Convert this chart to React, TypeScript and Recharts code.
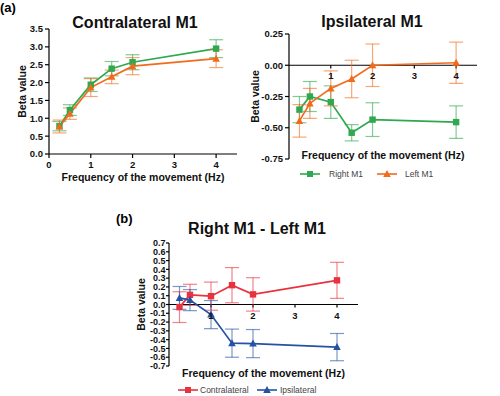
import React from "react";
import { LineChart, Line, XAxis, YAxis, ErrorBar, ReferenceLine } from "recharts";

// frequencies of the movement (Hz)
const freqs = [0.25, 0.5, 1, 1.5, 2, 4];

// (a) contralateral M1
const contraRight = [0.78, 1.23, 1.94, 2.39, 2.57, 2.95];
const contraRightErr = [0.13, 0.15, 0.19, 0.2, 0.21, 0.25];
const contraLeft = [0.77, 1.13, 1.86, 2.16, 2.46, 2.67];
const contraLeftErr = [0.18, 0.16, 0.25, 0.19, 0.24, 0.25];

// (a) ipsilateral M1
const ipsiRight = [-0.355, -0.25, -0.295, -0.54, -0.435, -0.455];
const ipsiRightErr = [0.105, 0.12, 0.13, 0.065, 0.135, 0.13];
const ipsiLeft = [-0.445, -0.305, -0.185, -0.11, 0.0, 0.02];
const ipsiLeftErr = [0.13, 0.12, 0.14, 0.15, 0.17, 0.165];

// (b) right M1 - left M1
const diffContra = [-0.03, 0.11, 0.095, 0.22, 0.115, 0.275];
const diffContraErr = [0.175, 0.12, 0.16, 0.2, 0.19, 0.205];
const diffIpsi = [0.075, 0.05, -0.115, -0.44, -0.445, -0.485];
const diffIpsiErr = [0.13, 0.12, 0.16, 0.16, 0.16, 0.155];

const xTicks = [0, 1, 2, 3, 4];
const xTicksNoZero = [1, 2, 3, 4];
const contraTicks = [0, 0.5, 1, 1.5, 2, 2.5, 3, 3.5];
const ipsiTicks = [-0.75, -0.5, -0.25, 0, 0.25];
const diffTicks = [0.7, 0.6, 0.5, 0.4, 0.3, 0.2, 0.1, 0, -0.1, -0.2, -0.3, -0.4, -0.5, -0.6, -0.7];

const GREEN = "#2fa84f";
const ORANGE = "#f26b1d";
const RED = "#e9323f";
const BLUE = "#2553a3";

const FONT = "'Liberation Sans', Arial, sans-serif";
const TITLE_FONT = "'Liberation Sans Narrow', 'Liberation Sans', sans-serif";
const X_LABEL = "Frequency of the movement (Hz)";

const contraData = freqs.map((f, i) => ({
  f,
  right: contraRight[i],
  rightErr: contraRightErr[i],
  left: contraLeft[i],
  leftErr: contraLeftErr[i],
}));
const ipsiData = freqs.map((f, i) => ({
  f,
  right: ipsiRight[i],
  rightErr: ipsiRightErr[i],
  left: ipsiLeft[i],
  leftErr: ipsiLeftErr[i],
}));
const diffData = freqs.map((f, i) => ({
  f,
  contra: diffContra[i],
  contraErr: diffContraErr[i],
  ipsi: diffIpsi[i],
  ipsiErr: diffIpsiErr[i],
}));

const squareDot = (color: string) => (p: any) => {
  if (p.cx == null || p.cy == null) return <g key={p.index} />;
  return <rect key={p.index} x={p.cx - 3.2} y={p.cy - 3.2} width={6.4} height={6.4} fill={color} />;
};
const triangleDot = (color: string) => (p: any) => {
  if (p.cx == null || p.cy == null) return <g key={p.index} />;
  const { cx, cy } = p;
  return (
    <polygon
      key={p.index}
      points={`${cx},${cy - 4} ${cx - 3.8},${cy + 3} ${cx + 3.8},${cy + 3}`}
      fill={color}
    />
  );
};

const tickStyle = (size: number) => ({ fontSize: size, fontWeight: 700, fill: "#111", fontFamily: FONT });
const axisLabel = { fontSize: 10.5, fontWeight: 700, fill: "#111", fontFamily: FONT };

function Title({ text, x, y }: { text: string; x: number; y: number }) {
  return (
    <div
      style={{
        position: "absolute",
        left: x,
        top: y - 10,
        transform: "translateX(-50%)",
        lineHeight: "20px",
        fontSize: 16,
        fontWeight: 700,
        fontFamily: TITLE_FONT,
        color: "#111",
        whiteSpace: "nowrap",
      }}
    >
      {text}
    </div>
  );
}

function LegendItem({ x, y, textX, color, shape, text }: any) {
  return (
    <>
      <svg style={{ position: "absolute", left: x, top: y - 5 }} width={20} height={10}>
        <line x1={0} y1={5} x2={20} y2={5} stroke={color} strokeWidth={1.6} />
        {shape === "square" ? (
          <rect x={7} y={2} width={6} height={6} fill={color} />
        ) : (
          <polygon points="10,1 6.2,8 13.8,8" fill={color} />
        )}
      </svg>
      <div
        style={{
          position: "absolute",
          left: textX,
          top: y - 6,
          lineHeight: "12px",
          fontSize: 8.5,
          fontFamily: FONT,
          color: "#444",
          whiteSpace: "nowrap",
        }}
      >
        {text}
      </div>
    </>
  );
}

function ContraChart() {
  return (
    <LineChart width={250} height={200} data={contraData} margin={{ top: 29, right: 13, bottom: 16, left: 15 }}>
      <XAxis
        type="number"
        dataKey="f"
        domain={[0, 4.5]}
        ticks={xTicks}
        allowDataOverflow
        stroke="#000"
        strokeWidth={1.2}
        tickSize={4}
        tickMargin={3}
        height={30}
        tick={tickStyle(9.5)}
        label={{ value: X_LABEL, position: "insideBottom", offset: 3, ...axisLabel }}
      />
      <YAxis
        type="number"
        domain={[0, 3.5]}
        ticks={contraTicks}
        allowDataOverflow
        width={34}
        stroke="#000"
        strokeWidth={1.2}
        tickSize={4}
        tickMargin={2}
        tick={tickStyle(9.5)}
        tickFormatter={(v: number) => v.toFixed(1)}
        label={{ value: "Beta value", angle: -90, position: "insideLeft", offset: 7, style: { textAnchor: "middle" }, ...axisLabel }}
      />
      <Line dataKey="right" stroke={GREEN} strokeWidth={1.7} dot={squareDot(GREEN)} isAnimationActive={false}>
        <ErrorBar dataKey="rightErr" direction="y" width={7} stroke={GREEN} strokeOpacity={0.6} strokeWidth={1.2} />
      </Line>
      <Line dataKey="left" stroke={ORANGE} strokeWidth={1.7} dot={triangleDot(ORANGE)} isAnimationActive={false}>
        <ErrorBar dataKey="leftErr" direction="y" width={7} stroke={ORANGE} strokeOpacity={0.6} strokeWidth={1.2} />
      </Line>
    </LineChart>
  );
}

function IpsiChart() {
  return (
    <LineChart width={254} height={200} data={ipsiData} margin={{ top: 34, right: 23, bottom: 21, left: 7 }}>
      <XAxis
        type="number"
        dataKey="f"
        domain={[0, 4.5]}
        allowDataOverflow
        axisLine={false}
        tickLine={false}
        tick={false}
        height={20}
        label={{ value: X_LABEL, position: "top", offset: 0, ...axisLabel }}
      />
      <YAxis
        type="number"
        domain={[-0.75, 0.25]}
        ticks={ipsiTicks}
        allowDataOverflow
        width={36}
        stroke="#000"
        strokeWidth={1.2}
        tickSize={4}
        tickMargin={2}
        tick={tickStyle(9.5)}
        tickFormatter={(v: number) => v.toFixed(2)}
        label={{ value: "Beta value", angle: -90, position: "insideLeft", offset: 2, style: { textAnchor: "middle" }, ...axisLabel }}
      />
      <ReferenceLine y={0} stroke="#000" strokeWidth={1.2} />
      {xTicksNoZero.map((t) => (
        <ReferenceLine
          key={t}
          segment={[{ x: t, y: 0 }, { x: t, y: -0.025 }]}
          stroke="#000"
          strokeWidth={1.2}
          label={{ value: String(t), position: "bottom", offset: 4, ...tickStyle(9.5) }}
        />
      ))}
      <Line dataKey="right" stroke={GREEN} strokeWidth={1.7} dot={squareDot(GREEN)} isAnimationActive={false}>
        <ErrorBar dataKey="rightErr" direction="y" width={7} stroke={GREEN} strokeOpacity={0.6} strokeWidth={1.2} />
      </Line>
      <Line dataKey="left" stroke={ORANGE} strokeWidth={1.7} dot={triangleDot(ORANGE)} isAnimationActive={false}>
        <ErrorBar dataKey="leftErr" direction="y" width={7} stroke={ORANGE} strokeOpacity={0.6} strokeWidth={1.2} />
      </Line>
    </LineChart>
  );
}

function DiffChart() {
  return (
    <LineChart width={300} height={206} data={diffData} margin={{ top: 53, right: 42, bottom: 14, left: 39 }}>
      <XAxis
        type="number"
        dataKey="f"
        domain={[0, 4.5]}
        allowDataOverflow
        axisLine={false}
        tickLine={false}
        tick={false}
        height={16}
        label={{ value: X_LABEL, position: "insideBottom", offset: 5, ...axisLabel }}
      />
      <YAxis
        type="number"
        domain={[-0.7, 0.7]}
        ticks={diffTicks}
        interval={0}
        allowDataOverflow
        width={30}
        stroke="#000"
        strokeWidth={1.2}
        tickSize={3}
        tickMargin={0.5}
        tick={tickStyle(9)}
        tickFormatter={(v: number) => v.toFixed(1)}
        label={{ value: "Beta value", angle: -90, position: "insideLeft", offset: 2, style: { textAnchor: "middle" }, ...axisLabel }}
      />
      <ReferenceLine y={0} stroke="#000" strokeWidth={1.2} />
      {xTicksNoZero.map((t) => (
        <ReferenceLine
          key={t}
          segment={[{ x: t, y: 0 }, { x: t, y: -0.035 }]}
          stroke="#000"
          strokeWidth={1.2}
          label={{ value: String(t), position: "bottom", offset: 5, ...tickStyle(9.5) }}
        />
      ))}
      <Line dataKey="contra" stroke={RED} strokeWidth={1.7} dot={squareDot(RED)} isAnimationActive={false}>
        <ErrorBar dataKey="contraErr" direction="y" width={7} stroke={RED} strokeOpacity={0.6} strokeWidth={1.2} />
      </Line>
      <Line dataKey="ipsi" stroke={BLUE} strokeWidth={1.7} dot={triangleDot(BLUE)} isAnimationActive={false}>
        <ErrorBar dataKey="ipsiErr" direction="y" width={7} stroke={BLUE} strokeOpacity={0.6} strokeWidth={1.2} />
      </Line>
    </LineChart>
  );
}

export default function App() {
  return (
    <div
      style={{
        position: "absolute",
        left: 0,
        top: 0,
        width: 500,
        height: 396,
        background: "#fff",
        fontFamily: FONT,
        overflow: "hidden",
      }}
    >
      <div style={{ position: "absolute", left: 0, top: 0 }}>
        <ContraChart />
      </div>
      <div style={{ position: "absolute", left: 246, top: 0 }}>
        <IpsiChart />
      </div>
      <div style={{ position: "absolute", left: 100, top: 190 }}>
        <DiffChart />
      </div>

      <div style={{ position: "absolute", left: 0, top: 0, fontSize: 13, fontWeight: 700, fontFamily: TITLE_FONT, lineHeight: "16px" }}>(a)</div>
      <div style={{ position: "absolute", left: 116, top: 211, fontSize: 13, fontWeight: 700, fontFamily: TITLE_FONT, lineHeight: "16px" }}>(b)</div>

      <Title text="Contralateral M1" x={135} y={23} />
      <Title text="Ipsilateral M1" x={372} y={22} />
      <Title text="Right M1 - Left M1" x={257} y={229} />

      <LegendItem x={300} y={174} textX={329} color={GREEN} shape="square" text="Right M1" />
      <LegendItem x={377} y={174} textX={405} color={ORANGE} shape="triangle" text="Left M1" />
      <LegendItem x={178} y={390} textX={200} color={RED} shape="square" text="Contralateral" />
      <LegendItem x={257} y={390} textX={280} color={BLUE} shape="triangle" text="Ipsilateral" />
    </div>
  );
}
